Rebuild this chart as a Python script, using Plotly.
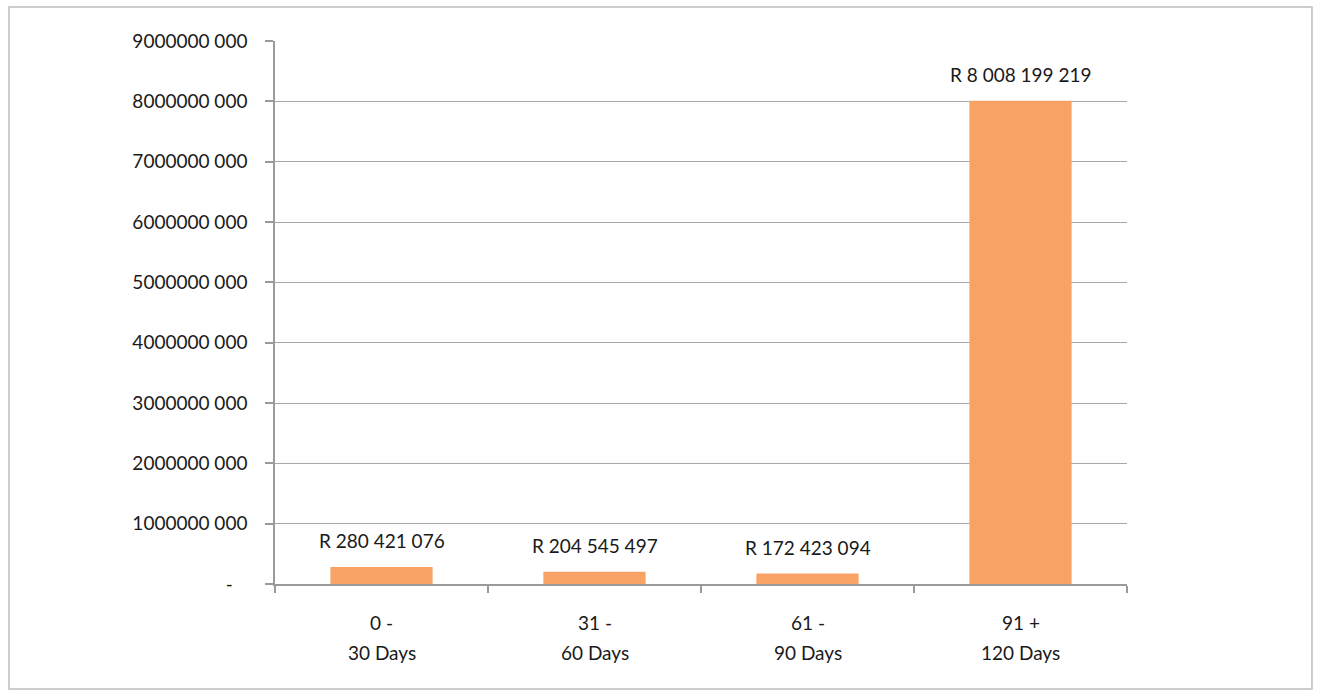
import plotly.graph_objects as go

cat_top = ["0 -", "31 -", "61 -", "91 +"]
cat_bottom = ["30 Days", "60 Days", "90 Days", "120 Days"]
categories = [a + " " + b for a, b in zip(cat_top, cat_bottom)]
values = [280421076, 204545497, 172423094, 8008199219]
ytick_vals = [0, 1e9, 2e9, 3e9, 4e9, 5e9, 6e9, 7e9, 8e9, 9e9]
ytick_text = ["-\u00a0\u00a0\u00a0", "1000000 000", "2000000 000", "3000000 000", "4000000 000",
              "5000000 000", "6000000 000", "7000000 000", "8000000 000", "9000000 000"]


def fmt(v):
    return "R " + f"{v:,}".replace(",", " ")


FONT = "Lato"
FS = 19
fig = go.Figure()
fig.add_trace(go.Bar(x=categories, y=values, marker=dict(color="#F9A266", line=dict(width=0)),
                     width=0.48, showlegend=False, hoverinfo="skip"))

for c, v in zip(categories, values):
    fig.add_annotation(x=c, y=v, text=fmt(v), showarrow=False, yanchor="bottom", yshift=13,
                       font=dict(family=FONT, size=FS, color="#1a1a1a"))
for c, t, b in zip(categories, cat_top, cat_bottom):
    fig.add_annotation(x=c, y=0, text=t, showarrow=False, yanchor="middle", yshift=-38,
                       font=dict(family=FONT, size=FS, color="#1a1a1a"))
    fig.add_annotation(x=c, y=0, text=b, showarrow=False, yanchor="middle", yshift=-68,
                       font=dict(family=FONT, size=FS, color="#1a1a1a"))

# outer chart border
fig.add_shape(type="rect", xref="paper", yref="paper", x0=-0.3122, x1=1.2171, y0=-0.1934, y1=1.0626,
              line=dict(color="#bdbdbd", width=1.5), fillcolor="rgba(0,0,0,0)")

fig.update_layout(
    width=1319, height=694,
    margin=dict(l=275, r=192, t=41, b=110, pad=0),
    paper_bgcolor="white", plot_bgcolor="white",
    bargap=0.52,
    font=dict(family=FONT, size=FS, color="#1a1a1a"),
)
fig.update_xaxes(type="category", showticklabels=False, showline=True, linecolor="#9a9a9a", linewidth=1.5,
                 ticks="outside", ticklen=7, tickcolor="#9a9a9a", tickwidth=1.5, tickson="boundaries",
                 showgrid=False, fixedrange=True)
fig.update_yaxes(range=[0, 9e9], tickvals=ytick_vals, ticktext=ytick_text, showline=True,
                 linecolor="#9a9a9a", linewidth=1.5, ticks="outside", ticklen=8, tickcolor="#9a9a9a",
                 tickwidth=1.5, showgrid=True, gridcolor="#a8a8a8", gridwidth=1.2, zeroline=False,
                 ticklabelstandoff=14, tickfont=dict(family=FONT, size=FS, color="#1a1a1a"))

fig.write_html("out.html")
